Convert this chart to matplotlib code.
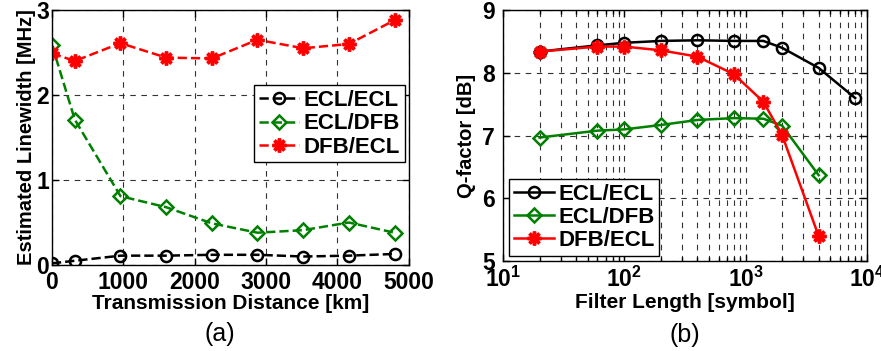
import matplotlib
matplotlib.use('Agg')
import matplotlib.pyplot as plt
from matplotlib.ticker import LogLocator, NullFormatter

plt.rcParams['font.family'] = ['Liberation Sans', 'DejaVu Sans']
plt.rcParams['font.weight'] = 'bold'
plt.rcParams['axes.labelweight'] = 'bold'
plt.rcParams['mathtext.fontset'] = 'custom'
plt.rcParams['mathtext.bf'] = 'Liberation Sans:bold'

# (a) linewidth vs distance
dist_km = [0, 320, 960, 1600, 2240, 2880, 3520, 4160, 4800]
lw_ecl_ecl = [0.02, 0.05, 0.11, 0.11, 0.12, 0.12, 0.10, 0.11, 0.13]
lw_ecl_dfb = [2.59, 1.71, 0.81, 0.68, 0.49, 0.38, 0.41, 0.50, 0.38]
lw_dfb_ecl = [2.49, 2.40, 2.61, 2.44, 2.43, 2.65, 2.55, 2.60, 2.88]

# (b) Q-factor vs filter length
flen_ecl = [20, 60, 100, 200, 400, 800, 1400, 2000, 4000, 8000]
q_ecl_ecl = [8.34, 8.44, 8.48, 8.51, 8.52, 8.51, 8.51, 8.40, 8.08, 7.60]
flen = [20, 60, 100, 200, 400, 800, 1400, 2000, 4000]
q_ecl_dfb = [6.97, 7.08, 7.10, 7.17, 7.25, 7.28, 7.27, 7.16, 6.37]
q_dfb_ecl = [8.34, 8.42, 8.42, 8.36, 8.26, 7.98, 7.54, 7.01, 5.40]

labels = ['ECL/ECL', 'ECL/DFB', 'DFB/ECL']
green = '#008000'
red = '#ff0000'
star = (8, 2, 0)
tick_fs = 16.5
leg_fs = 16

fig = plt.figure(figsize=(8.81, 3.51), dpi=100)
ax1 = fig.add_axes([0.059, 0.245, 0.405, 0.7265])
ax2 = fig.add_axes([0.571, 0.256, 0.413, 0.715])

grid_kw = dict(color='#333333', linestyle=(0, (5, 5)), linewidth=0.8)
leg_kw = dict(fontsize=leg_fs, fancybox=False, edgecolor='black', framealpha=1,
              handlelength=1.8, handletextpad=0.2, borderpad=0.22,
              labelspacing=0.1, borderaxespad=0)

# panel (a)
ax1.plot(dist_km, lw_ecl_ecl, color='black', ls='--', lw=1.8, marker='o',
         ms=8, mfc='none', mew=1.8, label=labels[0])
ax1.plot(dist_km, lw_ecl_dfb, color=green, ls='--', lw=1.8, marker='D',
         ms=7, mfc='none', mew=1.8, label=labels[1])
ax1.plot(dist_km, lw_dfb_ecl, color=red, ls='--', lw=1.8, marker=star,
         ms=10, mew=2.5, label=labels[2])
ax1.set_xlim(0, 5000)
ax1.set_ylim(0, 3)
ax1.set_xticks(range(0, 5001, 1000))
ax1.set_yticks([0, 1, 2, 3])
ax1.grid(True, **grid_kw)
ax1.set_xlabel('Transmission Distance [km]', fontsize=15, labelpad=0)
ax1.set_ylabel('Estimated Linewidth [MHz]', fontsize=14.5, labelpad=0)
ax1.legend(loc='upper right', bbox_to_anchor=(0.988, 0.705), **leg_kw)
ax1.text(0.47, -0.225, '(a)', transform=ax1.transAxes, ha='center',
         va='top', fontsize=18, fontweight='normal')

# panel (b)
ax2.plot(flen_ecl, q_ecl_ecl, color='black', lw=1.8, marker='o',
         ms=8, mfc='none', mew=1.8, label=labels[0])
ax2.plot(flen, q_ecl_dfb, color=green, lw=1.8, marker='D',
         ms=7, mfc='none', mew=1.8, label=labels[1])
ax2.plot(flen, q_dfb_ecl, color=red, lw=1.8, marker=star,
         ms=10, mew=2.5, label=labels[2])
ax2.set_xscale('log')
ax2.set_xlim(10, 1e4)
ax2.set_ylim(5, 9)
ax2.set_yticks([5, 6, 7, 8, 9])
ax2.set_xticks([10, 100, 1000, 10000])
ax2.set_xticklabels([r'$\mathbf{10^{1}}$', r'$\mathbf{10^{2}}$',
                     r'$\mathbf{10^{3}}$', r'$\mathbf{10^{4}}$'])
ax2.xaxis.set_minor_locator(LogLocator(base=10, subs=range(2, 10)))
ax2.xaxis.set_minor_formatter(NullFormatter())
ax2.grid(True, which='major', **grid_kw)
ax2.grid(True, which='minor', axis='x', **grid_kw)
ax2.set_xlabel('Filter Length [symbol]', fontsize=15, labelpad=1)
ax2.set_ylabel('Q-factor [dB]', fontsize=14.5, labelpad=4)
ax2.legend(loc='lower left', bbox_to_anchor=(0.016, 0.02), **leg_kw)
ax2.text(0.5, -0.245, '(b)', transform=ax2.transAxes, ha='center',
         va='top', fontsize=18, fontweight='normal')

for ax in (ax1, ax2):
    ax.tick_params(which='both', direction='in', labelsize=tick_fs, top=True,
                   right=True, width=1)
    ax.tick_params(which='major', length=5)
    ax.tick_params(which='minor', length=3)
    for s in ax.spines.values():
        s.set_linewidth(1)
ax1.tick_params(axis='x', pad=4)
ax1.tick_params(axis='y', pad=2)
ax2.tick_params(axis='x', pad=4)
ax2.tick_params(axis='y', pad=6)

fig.savefig('out.png', dpi=100)
